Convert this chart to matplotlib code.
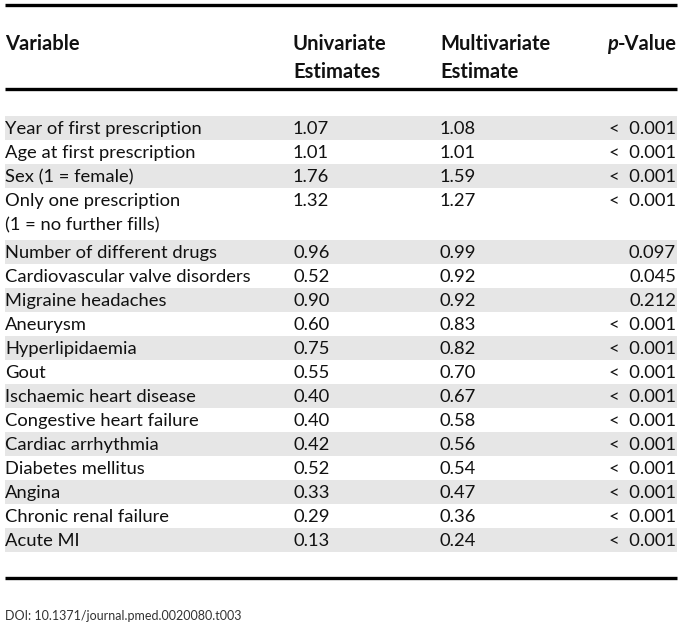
import matplotlib
matplotlib.use("Agg")
import matplotlib.pyplot as plt
from matplotlib.patches import Rectangle

variables = ["Year of first prescription", "Age at first prescription", "Sex (1 = female)",
             "Only one prescription\n(1 = no further fills)", "Number of different drugs",
             "Cardiovascular valve disorders", "Migraine headaches", "Aneurysm", "Hyperlipidaemia",
             "Gout", "Ischaemic heart disease", "Congestive heart failure", "Cardiac arrhythmia",
             "Diabetes mellitus", "Angina", "Chronic renal failure", "Acute MI"]
univariate = ["1.07", "1.01", "1.76", "1.32", "0.96", "0.52", "0.90", "0.60", "0.75", "0.55",
              "0.40", "0.40", "0.42", "0.52", "0.33", "0.29", "0.13"]
multivariate = ["1.08", "1.01", "1.59", "1.27", "0.99", "0.92", "0.92", "0.83", "0.82", "0.70",
                "0.67", "0.58", "0.56", "0.54", "0.47", "0.36", "0.24"]
p_values = ["< 0.001", "< 0.001", "< 0.001", "< 0.001", "0.097", "0.045", "0.212", "< 0.001",
            "< 0.001", "< 0.001", "< 0.001", "< 0.001", "< 0.001", "< 0.001", "< 0.001",
            "< 0.001", "< 0.001"]
headers = ["Variable", "Univariate\nEstimates", "Multivariate\nEstimate", "-Value"]
doi = "DOI: 10.1371/journal.pmed.0020080.t003"

W, H = 682, 629
fig = plt.figure(figsize=(W / 100, H / 100), dpi=100)
ax = fig.add_axes([0, 0, 1, 1])
ax.set_xlim(0, W)
ax.set_ylim(H, 0)
ax.axis("off")

FONT = "Lato"
FS = 13.2
HFS = 14.5
x_var, x_uni, x_multi, x_p = 5, 293, 440, 676
left, right = 5, 677
line_h = 24

# rules
for yy in (5, 89, 578):
    ax.plot([left, right], [yy, yy], color="black", lw=2.4, solid_capstyle="butt")

# headers
hdr_kw = dict(fontsize=HFS, fontweight="bold", family=FONT, va="center", color="#111111")
ax.text(x_var, 44, headers[0], ha="left", **hdr_kw)
for x0, h in ((x_uni, headers[1]), (x_multi, headers[2])):
    for j, line in enumerate(h.split("\n")):
        ax.text(x0, 44 + 28 * j, line, ha="left", **hdr_kw)
tv = ax.text(x_p + 1, 44, headers[3], ha="right", **hdr_kw)
fig.canvas.draw()
bb = tv.get_window_extent()
px_left = bb.x0
ax.text(px_left, 44, "p", ha="right", fontsize=HFS, fontweight="bold", fontstyle="italic",
        family=FONT, va="center", color="#111111",
        transform=matplotlib.transforms.blended_transform_factory(
            matplotlib.transforms.IdentityTransform(), ax.transData))

# rows
y = 116
for i, (v, u, m, p) in enumerate(zip(variables, univariate, multivariate, p_values)):
    nlines = v.count("\n") + 1
    h = line_h * nlines + (4 if nlines > 1 else 0)
    if i % 2 == 0:
        ax.add_patch(Rectangle((left, y), right - left, h, facecolor="#e6e6e6",
                               edgecolor="none", zorder=0))
    ty = y + 13
    kw = dict(fontsize=FS, family=FONT, va="center", color="#111111")
    for j, line in enumerate(v.split("\n")):
        ax.text(x_var, ty + j * line_h, line, ha="left", **kw)
    ax.text(x_uni, ty, u, ha="left", **kw)
    ax.text(x_multi, ty, m, ha="left", **kw)
    ax.text(x_p, ty, p.replace("< ", "<  "), ha="right", **kw)
    y += h

ax.text(x_var, 616, doi, ha="left", va="center", fontsize=9, family=FONT, color="#333333")

fig.savefig("out.png", dpi=100)
